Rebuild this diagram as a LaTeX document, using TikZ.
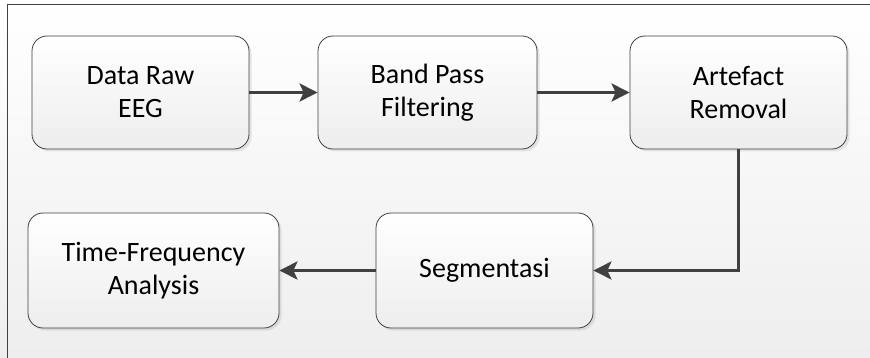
\documentclass[tikz,border=0pt]{standalone}
\usepackage{fontspec}
\setmainfont{Carlito}
\usepackage{xcolor}
\usepackage{tikz}
\usetikzlibrary{arrows.meta, shadows}
\definecolor{linegray}{RGB}{64,64,64}
\definecolor{bggray}{RGB}{238,238,238}
\tikzset{
	stage/.style={draw=linegray, line width=0.8pt, rounded corners=15pt,
		top color=white, bottom color=gray!14, align=center,
		minimum width=217pt, minimum height=113pt, inner sep=0pt,
		font=\fontsize{28}{33}\selectfont,
		drop shadow={opacity=0.18, shadow xshift=2.5pt, shadow yshift=-2.5pt}},
	flow/.style={draw=linegray, line width=3pt,
		-{Stealth[length=18pt, width=18pt, inset=4pt]}}
}

\begin{document}
\begin{tikzpicture}[x=1pt,y=-1pt]

% background and frame
\fill[top color=white, bottom color=bggray] (0,0) rectangle (870,358);
\useasboundingbox (0,0) rectangle (870,358);
\draw[linegray, line width=1pt] (870,5) -- (7,5) -- (7,358);

% upper row
\node[stage] (raw) at (140.5,92.5) {Data Raw\\EEG};
\node[stage, minimum width=219pt] (bpf) at (427.5,92.5) {Band Pass\\Filtering};
\node[stage] (art) at (738.5,92.5) {Artefact\\Removal};

% lower row
\node[stage, minimum width=251pt, minimum height=115pt] (tfa) at (153.5,270.5) {Time-Frequency\\Analysis};
\node[stage, minimum height=115pt] (seg) at (484.5,270.5) {Segmentasi};

\draw[flow] (raw) -- (bpf);
\draw[flow] (bpf) -- (art);
\draw[flow] (art.south) |- (seg.east);
\draw[flow] (seg) -- (tfa);

\end{tikzpicture}
\end{document}
